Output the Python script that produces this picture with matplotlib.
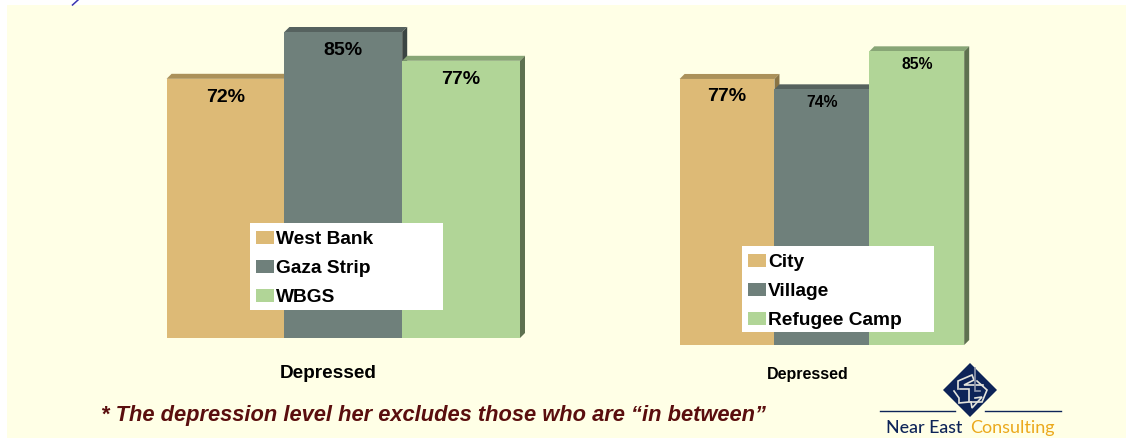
import matplotlib
matplotlib.use("Agg")
import matplotlib.pyplot as plt
from matplotlib.patches import Polygon, Rectangle

W, H = 1126, 438
plt.rcParams['font.family'] = ['Liberation Sans', 'DejaVu Sans']

# Survey shares, in percent
region_labels = ["West Bank", "Gaza Strip", "WBGS"]
region_values = [72, 85, 77]
locality_labels = ["City", "Village", "Refugee Camp"]
locality_values = [77, 74, 85]
axis_label = "Depressed"
footnote = "* The depression level her excludes those who are \u201cin between\u201d"

front = ["#DDBA76", "#6F807B", "#B1D597"]
top = ["#AB915A", "#56625F", "#88A676"]
side = ["#8A7445", "#3B4543", "#5E7150"]
BG = "#FFFFE6"
INK = "#000000"


def px_axes(fig, left, right, base, px_per_pct, ymax=90):
    """Axes placed in pixel units with 0 at the given baseline row."""
    height = px_per_pct * ymax
    return fig.add_axes([left / W, (H - base) / H, (right - left) / W, height / H])


def bars_3d(ax, values, depth_px, px_per_pct):
    """Draw front faces with bar() and add the top and side bevels."""
    x_unit = (ax.get_position().width * W) / 3
    dx = depth_px / x_unit
    dy = depth_px / px_per_pct
    n = len(values)
    # Bevels go underneath so nearer bars cover those of their neighbours
    for i, v in enumerate(values):
        ax.add_patch(Polygon([(i, v), (i + dx, v + dy), (i + 1 + dx, v + dy), (i + 1, v)],
                             closed=True, fc=top[i], ec="none", zorder=1, clip_on=False))
        ax.add_patch(Polygon([(i + 1, 0), (i + 1 + dx, dy), (i + 1 + dx, v + dy), (i + 1, v)],
                             closed=True, fc=side[i], ec="none", zorder=1, clip_on=False))
    return ax.bar(range(n), values, width=1.0, align="edge", color=front, zorder=2, linewidth=0)


def setup(ax):
    ax.set_xlim(0, 3)
    ax.set_ylim(0, 90)
    ax.axis("off")


def panel_legend(ax, handles, labels, box):
    l, t, r, b = box
    fig = ax.figure
    fig.add_artist(Rectangle((l / W, 1 - b / H), (r - l) / W, (b - t) / H, transform=fig.transFigure,
                             fc="white", ec="none", zorder=5))
    leg = fig.legend(handles, labels, loc="upper left",
                     bbox_to_anchor=(l / W, 1 - (t + 2) / H), frameon=False,
                     prop={"weight": "bold", "size": 13.8}, handlelength=0.94, handleheight=0.62,
                     handletextpad=0.08, labelspacing=0.62, borderpad=0.33, borderaxespad=0,
                     labelcolor=INK)
    leg.set_zorder(6)


fig = plt.figure(figsize=(W / 100, H / 100), dpi=100, facecolor="white")
fig.add_artist(Rectangle((7 / W, 0), 1 - 7 / W, 1 - 5 / H, transform=fig.transFigure, fc=BG, ec="none", zorder=-5))

# Stray pen stroke above the panel
fig.add_artist(plt.Line2D([72.5 / W, 78 / W], [1 - 5 / H, 1 - 0 / H], color="#3A35B0", lw=1.1))

# Regions panel
ax1 = px_axes(fig, 166.6, 520, 338, 3.6)
setup(ax1)
bars1 = bars_3d(ax1, region_values, 5, 3.6)
for i, v in enumerate(region_values):
    ax1.text(i + 0.5, v - 5.1, f"{v}%", ha="center", va="center", fontsize=14,
             fontweight="bold", color=INK, zorder=3)
panel_legend(ax1, list(bars1), region_labels, (250, 223, 443, 310))
fig.text(328 / W, 1 - 373 / H, axis_label, ha="center", va="center", fontsize=13.7, fontweight="bold", color=INK)

# Localities panel
ax2 = px_axes(fig, 679.6, 964.2, 345, 3.455)
setup(ax2)
bars2 = bars_3d(ax2, locality_values, 5, 3.455)
label_sizes = [14, 11.3, 11.3]
label_drop = [5.0, 3.8, 3.9]
for i, v in enumerate(locality_values):
    ax2.text(i + 0.5, v - label_drop[i], f"{v}%", ha="center", va="center", fontsize=label_sizes[i],
             fontweight="bold", color=INK, zorder=3)
panel_legend(ax2, list(bars2), locality_labels, (742, 246, 934, 332))
fig.text(807.5 / W, 1 - 374.5 / H, axis_label, ha="center", va="center", fontsize=11.5, fontweight="bold", color=INK)

# Footnote
fig.text(101 / W, 1 - 415.5 / H, footnote, ha="left", va="center", fontsize=15.76, fontweight="bold",
         fontstyle="italic", color="#5A0E0E")

# Consulting firm mark: diamond with a white knot, two rules and the name
NAVY = "#0D2458"
logo = fig.add_axes([0, 0, 1, 1], zorder=8)
logo.set_xlim(0, W)
logo.set_ylim(H, 0)
logo.axis("off")
logo.add_patch(Polygon([(970, 363), (997, 390), (970, 417), (943, 390)], closed=True, fc=NAVY, ec="none"))
knot = [[(958, 389), (958, 381), (972, 375), (974, 380), (964, 385), (983, 385)],
        [(954, 391), (959, 398), (959, 403), (969, 402), (969, 389), (960, 389)],
        [(977, 381), (987, 390), (982, 402), (970, 402)],
        [(971, 402), (972, 408), (982, 397), (975, 398)],
        [(975, 368), (975, 391), (980, 391)]]
knot_tones = ["#E4E4DC", "#E4E4DC", "#E4E4DC", "#E4E4DC", "#8F98AE"]
for path, tone in zip(knot, knot_tones):
    logo.plot(*zip(*path), color=tone, lw=1.2, solid_joinstyle="miter")
logo.plot([880, 955], [411, 411], color=NAVY, lw=1)
logo.plot([985, 1061], [411, 411], color=NAVY, lw=1)
logo.text(886.5, 428, "Near East", ha="left", va="center", fontsize=12.8,
          color=NAVY, family="Lato", fontweight="medium")
logo.text(970, 428, "Consulting", ha="left", va="center", fontsize=13, color="#EBA91C", family="Lato")

fig.savefig("out.png", dpi=100, facecolor="white")
